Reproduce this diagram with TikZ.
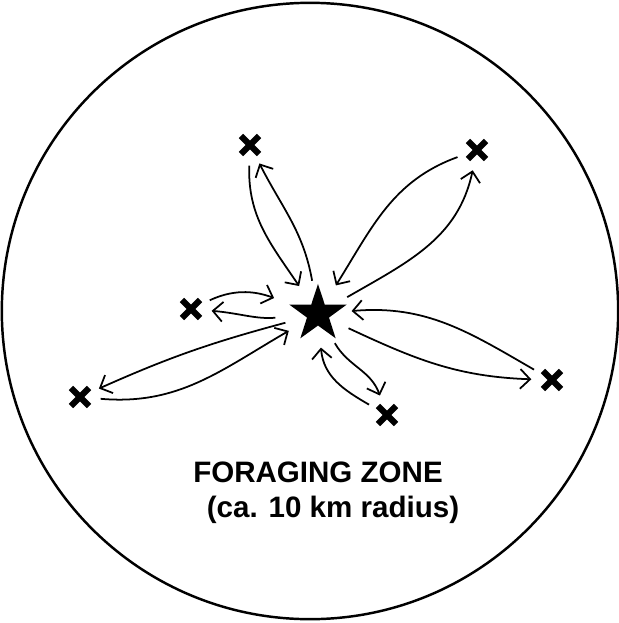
\documentclass[tikz,border=0pt]{standalone}
\usepackage{fontspec}
\newfontfamily\zonefont{Liberation Sans}
\usetikzlibrary{arrows.meta,shapes.geometric}

\tikzset{
    site/.style={circle, minimum size=0.4cm, inner sep=0pt,
        path picture={
            \draw[line width=1.8pt]
                ([shift={(-0.09cm,-0.09cm)}]path picture bounding box.center) --
                ([shift={(0.09cm,0.09cm)}]path picture bounding box.center)
                ([shift={(-0.09cm,0.09cm)}]path picture bounding box.center) --
                ([shift={(0.09cm,-0.09cm)}]path picture bounding box.center);
        }},
    trip/.style={-{Straight Barb[length=2.8pt,width=5.6pt]}, line width=0.5pt},
    zonetext/.style={font=\zonefont\bfseries\fontsize{8.4}{10}\selectfont},
}

\begin{document}
\begin{tikzpicture}[x=0.01cm, y=0.01cm]
        \useasboundingbox (0,0) rectangle (619,623);

        % -- foraging zone boundary ----------------------------------------------
        \draw[line width=0.7pt] (310,312) circle[radius=3.08cm];

        % -- nest (star) ---------------------------------------------------------
        \node[circle, minimum size=0.66cm, inner sep=0pt] (nest) at (318,309) {};
        \node[star, star points=5, star point ratio=2.6, minimum size=0.6cm,
              inner sep=0pt, fill] (nestmark) at (nest) {};

        % -- feeding sites (6 crosses) -------------------------------------------
        \foreach \name/\x/\y in {tl/250/478, tr/477/473, lf/191/314,
                                 fl/80/226, rt/552/243, bt/387/208} {
            \node[site] (\name) at (\x,\y) {};
        }

        % -- top-left site -------------------------------------------------------
        \draw[trip] (tl) to[out=268, in=124] (nest);
        \draw[trip] (nest) to[out=100, in=297] (tl);

        % -- top-right site ------------------------------------------------------
        \draw[trip] (tr) to[out=200, in=58] (nest);
        \draw[trip] (nest) to[out=30, in=258] (tr);

        % -- left site -----------------------------------------------------------
        \draw[trip, shorten >=0.13cm] (lf) to[out=25, in=160] (nest);
        \draw[trip, shorten <=0.09cm] (nest) to[out=185, in=355] (lf);

        % -- far-left site -------------------------------------------------------
        \draw[trip] (nest) to[out=195, in=24] (fl);
        \draw[trip] (fl) to[out=355, in=210] (nest);

        % -- right site ----------------------------------------------------------
        \draw[trip] (rt) to[out=150, in=5] (nest);
        \draw[trip] (nest) to[out=335, in=178] (rt);

        % -- bottom site ---------------------------------------------------------
        \draw[trip] (bt) to[out=150, in=275] (nest);
        \draw[trip] (nest) to[out=300, in=110] (bt);

        % -- labels --------------------------------------------------------------
        \node[zonetext] (title) at (318,151) {FORAGING ZONE};
        \node[zonetext] (radius) at (333,113) {(ca. 10 km radius)};
    \end{tikzpicture}
\end{document}
